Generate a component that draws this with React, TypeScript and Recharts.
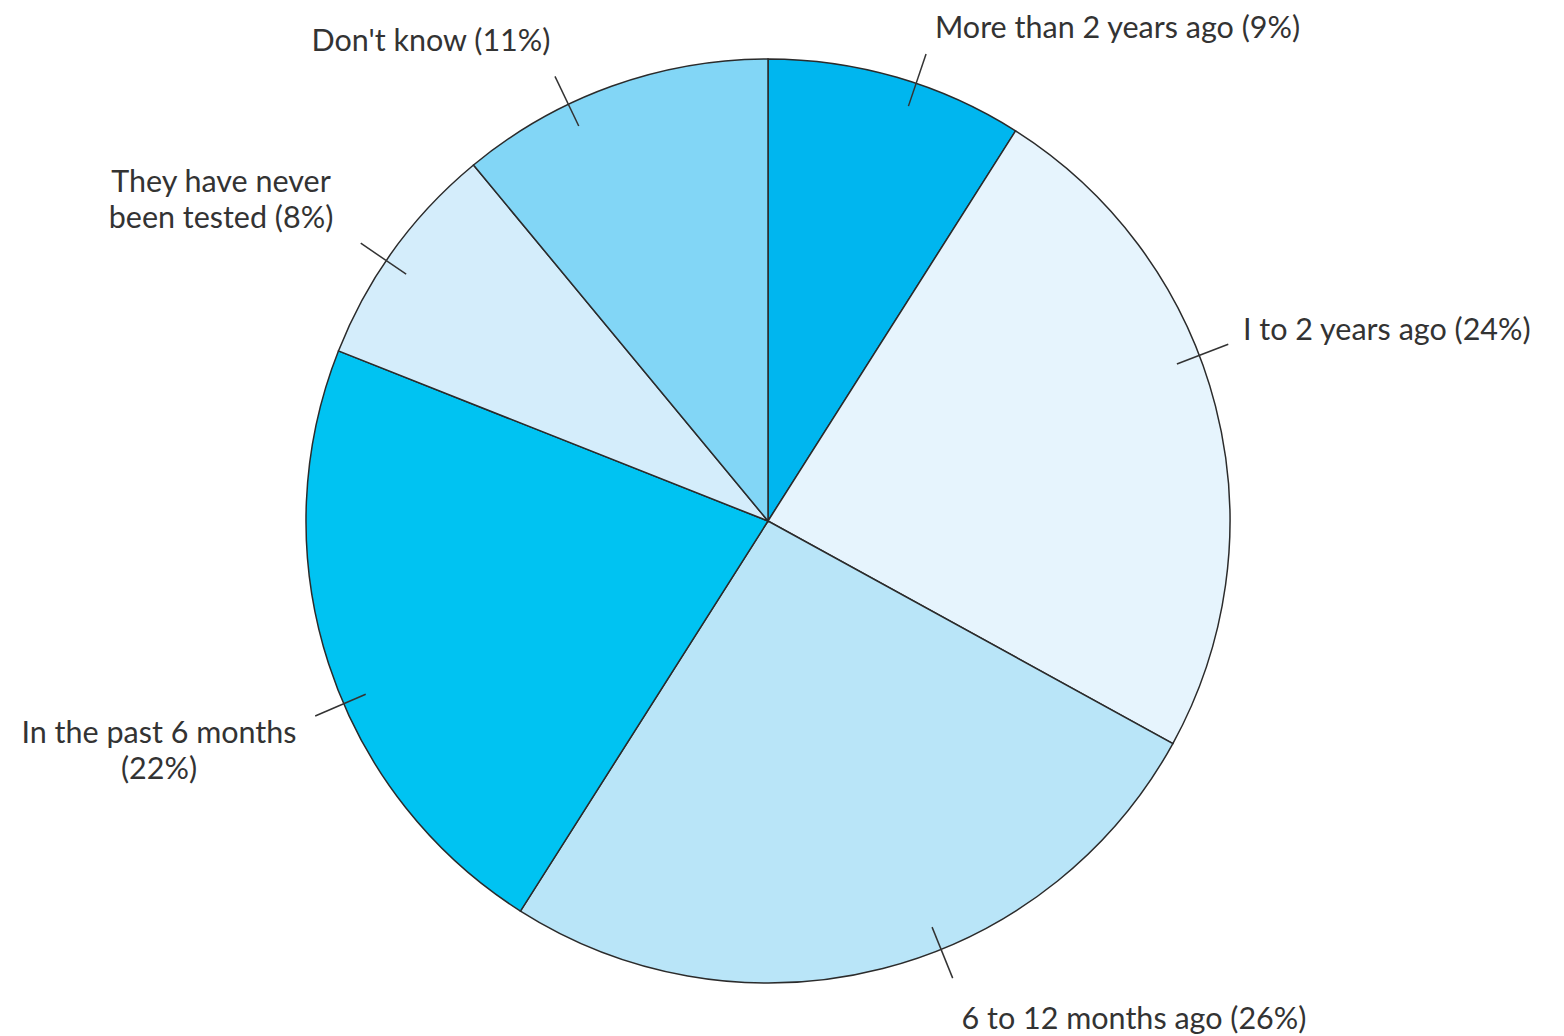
import { PieChart, Pie, Cell } from "recharts";

const categories = [
    "More than 2 years ago",
    "1 to 2 years ago",
    "6 to 12 months ago",
    "In the past 6 months",
    "They have never been tested",
    "Don't know",
];
const shares = [9, 24, 26, 22, 8, 11];
const colors = ["#00b6ef", "#e6f4fd", "#b9e5f8", "#00c3f2", "#d4edfb", "#82d6f6"];

// label lines of text, written as in the original
const labelLines = [
    ["More than 2 years ago (9%)"],
    ["I to 2 years ago (24%)"],
    ["6 to 12 months ago (26%)"],
    ["In the past 6 months", "(22%)"],
    ["They have never", "been tested (8%)"],
    ["Don't know (11%)"],
];

// where each label sits relative to the pie centre, and the tilt of its tick
const labelPlace = [
    { dx: 167, dy: -495, anchor: "start", tilt: -2.5 },
    { dx: 475, dy: -193, anchor: "start", tilt: 6.6 },
    { dx: 366, dy: 496, anchor: "middle", tilt: 7.6 },
    { dx: -609, dy: 210, anchor: "middle", tilt: 5.3 },
    { dx: -547, dy: -341, anchor: "middle", tilt: 1.7 },
    { dx: -337, dy: -482, anchor: "middle", tilt: 5.8 },
];

const data = categories.map((name, i) => ({ name, value: shares[i] }));

const RAD = Math.PI / 180;

function renderLabel(props: any) {
    const { cx, cy, midAngle, outerRadius, index } = props;
    const place = labelPlace[index];
    const a = (midAngle + place.tilt) * RAD;
    const r1 = outerRadius - 24;
    const r2 = outerRadius + 31;
    const lines = labelLines[index];
    const x = cx + place.dx;
    return (
        <g key={`lbl-${index}`}>
            <line
                x1={cx + r1 * Math.cos(a)}
                y1={cy - r1 * Math.sin(a)}
                x2={cx + r2 * Math.cos(a)}
                y2={cy - r2 * Math.sin(a)}
                stroke="#333"
                strokeWidth={1.5}
            />
            {lines.map((t, j) => (
                <text
                    key={j}
                    x={x}
                    y={cy + place.dy + j * 36}
                    textAnchor={place.anchor as any}
                    dominantBaseline="central"
                    fill="#333"
                    fontSize={30.5}
                    fontFamily="Lato, sans-serif"
                >
                    {t}
                </text>
            ))}
        </g>
    );
}

export default function App() {
    return (
        <PieChart width={1548} height={1028} margin={{ top: 0, right: 0, bottom: 0, left: 0 }}>
            <Pie
                data={data}
                dataKey="value"
                nameKey="name"
                cx={760}
                cy={513}
                outerRadius={462}
                startAngle={90}
                endAngle={-270}
                stroke="#2b2b2b"
                strokeWidth={1.5}
                label={renderLabel}
                labelLine={false}
                isAnimationActive={false}
            >
                {data.map((d, i) => (
                    <Cell key={d.name} fill={colors[i]} />
                ))}
            </Pie>
        </PieChart>
    );
}
